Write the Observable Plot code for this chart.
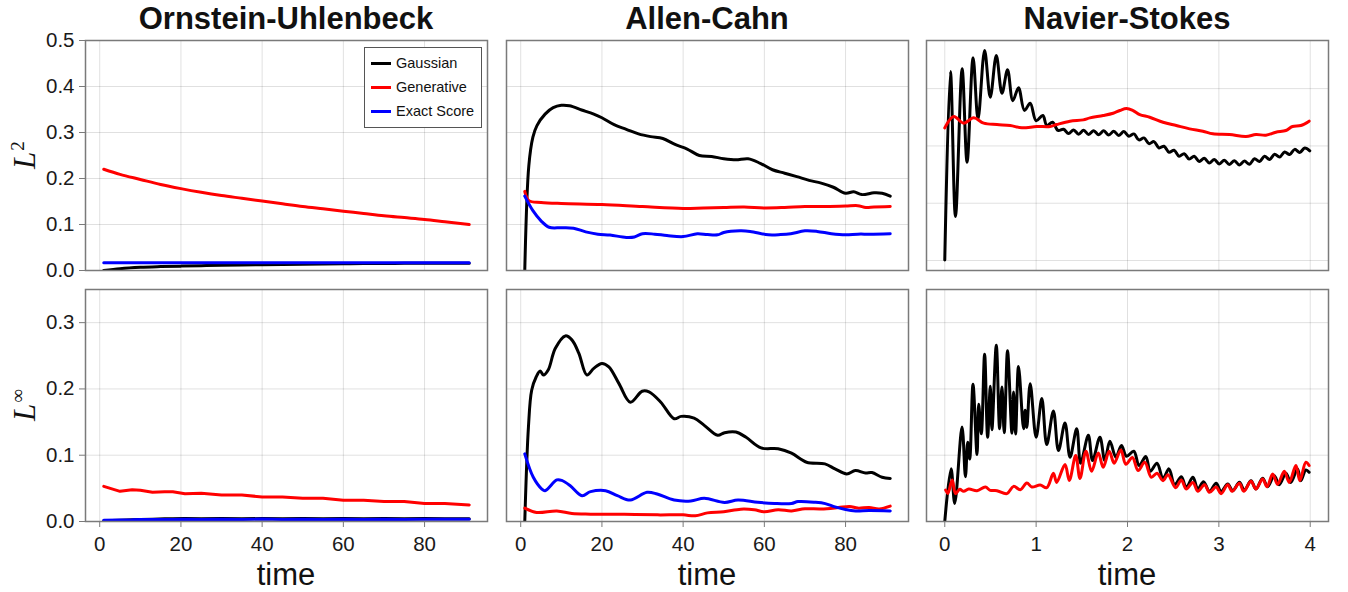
<!DOCTYPE html>
<html>
<head>
<meta charset="utf-8">
<script src="https://cdn.jsdelivr.net/npm/d3@7"></script>
<script src="https://cdn.jsdelivr.net/npm/@observablehq/plot@0.6"></script>
<style>
  html, body { margin: 0; padding: 0; background: #fff; }
  #root { position: relative; width: 1348px; height: 592px; overflow: hidden; font-family: "Liberation Sans", Arial, sans-serif; color: #111; }
  .title { position: absolute; font-weight: bold; font-size: 31px; line-height: 31px; white-space: nowrap; transform: translateX(-50%); }
  .xlab { position: absolute; font-size: 31px; line-height: 31px; white-space: nowrap; transform: translateX(-50%); }
  .ylab { position: absolute; font-family: "Liberation Serif", "DejaVu Serif", serif; font-style: italic; font-size: 31px; line-height: 31px; white-space: nowrap; transform: translate(-50%, -50%) rotate(-90deg); }
  .ylab sup { font-style: normal; font-size: 19px; vertical-align: 11px; line-height: 0; margin-left: 1px; }
  .legend { position: absolute; background: #fff; border: 1.5px solid #555; box-sizing: border-box; font-size: 14.5px; }
  .legend .row { position: absolute; left: 0; height: 20px; line-height: 20px; white-space: nowrap; }
  .legend .sw { position: absolute; left: 6px; top: 8.5px; width: 20px; height: 3px; }
  .legend .tx { position: absolute; left: 31px; top: 0; }
</style>
</head>
<body>
<div id="root"></div>
<script>
// ---------- tick values and labels ----------
const xTicksLong = [0, 20, 40, 60, 80];
const xTickLabelsLong = ["0", "20", "40", "60", "80"];
const xTicksNS = [0, 1, 2, 3, 4];
const xTickLabelsNS = ["0", "1", "2", "3", "4"];
const yTicksTop = [0, 0.1, 0.2, 0.3, 0.4, 0.5];
const yTickLabelsTop = ["0.0", "0.1", "0.2", "0.3", "0.4", "0.5"];
const yTicksBottom = [0, 0.1, 0.2, 0.3];
const yTickLabelsBottom = ["0.0", "0.1", "0.2", "0.3"];
const yTicksNSTop = [0, 0.1, 0.2, 0.3];

const titles = ["Ornstein-Uhlenbeck", "Allen-Cahn", "Navier-Stokes"];
const seriesNames = ["Gaussian", "Generative", "Exact Score"];
const seriesColors = ["#000000", "#ff0000", "#0000ff"];

// ---------- Ornstein-Uhlenbeck, L2 ----------
const ouL2Time = [1, 5, 10, 15, 20, 25, 30, 35, 40, 45, 50, 55, 60, 65, 70, 75, 80, 85, 91];
const ouL2Gaussian = [0.000, 0.004, 0.007, 0.0085, 0.0095, 0.0105, 0.0115, 0.012, 0.0125, 0.013, 0.0135, 0.014, 0.0145, 0.015, 0.015, 0.0155, 0.0155, 0.016, 0.016];
const ouL2Generative = [0.220, 0.209, 0.198, 0.187, 0.178, 0.170, 0.163, 0.157, 0.151, 0.145, 0.139, 0.134, 0.129, 0.124, 0.119, 0.115, 0.111, 0.106, 0.100];
const ouL2Exact = [0.017, 0.017, 0.017, 0.017, 0.017, 0.017, 0.017, 0.017, 0.017, 0.017, 0.017, 0.017, 0.017, 0.017, 0.017, 0.017, 0.017, 0.017, 0.017];

// ---------- Ornstein-Uhlenbeck, Linf ----------
const ouLinfTime = [1, 5, 8, 10, 13, 16, 18, 21, 25, 30, 35, 40, 45, 50, 55, 60, 65, 70, 75, 80, 85, 91];
const ouLinfGaussian = [0.001, 0.002, 0.0025, 0.003, 0.0035, 0.004, 0.004, 0.0045, 0.004, 0.0045, 0.004, 0.0045, 0.004, 0.0045, 0.004, 0.0045, 0.004, 0.0045, 0.004, 0.0045, 0.004, 0.004];
const ouLinfGenerative = [0.053, 0.0455, 0.048, 0.047, 0.044, 0.045, 0.045, 0.042, 0.0425, 0.040, 0.040, 0.037, 0.037, 0.035, 0.035, 0.032, 0.032, 0.030, 0.030, 0.027, 0.027, 0.025];
const ouLinfExact = [0.002, 0.0022, 0.0025, 0.003, 0.003, 0.003, 0.0032, 0.0035, 0.003, 0.0035, 0.003, 0.0037, 0.003, 0.0035, 0.0032, 0.0035, 0.003, 0.0035, 0.0032, 0.0035, 0.0033, 0.0033];

// ---------- Allen-Cahn, L2 ----------
const acL2GaussianTime = [1, 2, 3, 4, 6, 8, 10, 12, 15, 18, 20, 23, 26, 29, 32, 35, 38, 41, 44, 47, 50, 53, 56, 59, 62, 65, 68, 71, 74, 77, 80, 82, 84, 87, 89, 91];
const acL2Gaussian = [0.0, 0.228, 0.29, 0.315, 0.34, 0.354, 0.359, 0.358, 0.349, 0.34, 0.332, 0.317, 0.307, 0.297, 0.291, 0.287, 0.274, 0.264, 0.25, 0.248, 0.243, 0.2405, 0.243, 0.233, 0.219, 0.2115, 0.204, 0.196, 0.19, 0.181, 0.168, 0.171, 0.165, 0.169, 0.168, 0.1616];
const acL2GenerativeTime = [1, 2, 5, 10, 20, 30, 40, 45, 50, 55, 60, 65, 70, 75, 80, 83, 85, 87, 91];
const acL2Generative = [0.172, 0.152, 0.148, 0.1457, 0.1435, 0.139, 0.135, 0.136, 0.137, 0.138, 0.136, 0.137, 0.139, 0.139, 0.140, 0.141, 0.137, 0.138, 0.139];
const acL2ExactTime = [1, 3, 5, 7, 10, 13, 16, 19, 22, 26, 28, 30, 33, 36, 40, 43.5, 46, 48.5, 50, 54, 56.5, 61, 64, 66.5, 70, 73, 76.5, 80, 83, 86, 91];
const acL2Exact = [0.1616, 0.130, 0.108, 0.094, 0.093, 0.092, 0.084, 0.079, 0.077, 0.072, 0.073, 0.080, 0.079, 0.076, 0.0737, 0.080, 0.078, 0.0775, 0.0825, 0.0862, 0.085, 0.0775, 0.078, 0.080, 0.0862, 0.085, 0.080, 0.0775, 0.079, 0.079, 0.080];

// ---------- Allen-Cahn, Linf ----------
const acLinfGaussianTime = [1, 1.9, 2.7, 3.8, 4.8, 5.6, 6.8, 8.5, 11, 12.6, 14.3, 16.3, 18, 20, 21.7, 24.2, 27, 29.9, 31.6, 34.5, 37.8, 39.5, 42.7, 45.2, 48.5, 50.2, 53, 55.5, 59.2, 63.4, 66.7, 70.4, 74.9, 77.4, 80.3, 82.4, 84.9, 86.5, 89, 91];
const acLinfGaussian = [0.0, 0.1424, 0.198, 0.218, 0.227, 0.221, 0.229, 0.261, 0.28, 0.274, 0.254, 0.221, 0.231, 0.2385, 0.2333, 0.208, 0.180, 0.1965, 0.1955, 0.180, 0.155, 0.1586, 0.156, 0.145, 0.13, 0.134, 0.135, 0.127, 0.111, 0.1097, 0.103, 0.0894, 0.087, 0.0794, 0.0718, 0.0768, 0.0733, 0.0738, 0.0667, 0.065];
const acLinfGenerativeTime = [1, 3.9, 8.9, 12.6, 17.2, 25.5, 33.7, 40, 43, 46, 50, 54.2, 57.5, 60, 63.4, 66.7, 70, 74, 78.2, 81, 83, 85.8, 88.3, 91];
const acLinfGenerative = [0.0202, 0.0136, 0.016, 0.012, 0.0111, 0.011, 0.010, 0.010, 0.0086, 0.013, 0.0146, 0.0186, 0.0177, 0.0146, 0.0177, 0.016, 0.0192, 0.019, 0.021, 0.0227, 0.0202, 0.021, 0.019, 0.0232];
const acLinfExactTime = [1, 3.1, 5.2, 6, 8.9, 10.1, 12.2, 15.1, 17.2, 20.9, 23.8, 27, 31.1, 33.6, 37.8, 41.9, 45.2, 50.2, 53.5, 58.4, 62.5, 66.7, 68.3, 72.5, 75, 77.4, 80, 82.5, 85.8, 91];
const acLinfExact = [0.102, 0.0667, 0.049, 0.0465, 0.0627, 0.062, 0.054, 0.039, 0.045, 0.0465, 0.039, 0.0324, 0.044, 0.0415, 0.0324, 0.031, 0.035, 0.0288, 0.0324, 0.029, 0.0273, 0.0273, 0.030, 0.029, 0.027, 0.022, 0.018, 0.016, 0.0167, 0.016];

// ---------- Navier-Stokes, L2 ----------
const nsL2GaussianTime = [0, 0.062, 0.117, 0.19, 0.244, 0.31, 0.364, 0.436, 0.498, 0.564, 0.626, 0.687, 0.745, 0.807, 0.872, 0.935, 1.0, 1.073, 1.117, 1.18, 1.24,
  1.30, 1.355, 1.41, 1.465, 1.52, 1.575, 1.63, 1.685, 1.74, 1.795, 1.85, 1.905, 1.96, 2.015, 2.07, 2.125, 2.18, 2.235, 2.29, 2.345, 2.40, 2.455, 2.51, 2.565, 2.62, 2.675, 2.73, 2.785, 2.84, 2.895, 2.95, 3.005, 3.06, 3.115, 3.17, 3.225, 3.28, 3.335, 3.39, 3.445, 3.50, 3.555, 3.61, 3.665, 3.72, 3.775, 3.83, 3.885, 3.94, 3.995];
const nsL2Gaussian = [0.001, 0.330, 0.0768, 0.3345, 0.1716, 0.3537, 0.247, 0.3665, 0.285, 0.3578, 0.292, 0.3328, 0.279, 0.3014, 0.262, 0.2745, 0.244, 0.253, 0.2356, 0.2414, 0.227,
  0.2290, 0.2215, 0.2280, 0.2205, 0.2273, 0.2200, 0.2267, 0.2195, 0.2263, 0.2190, 0.2257, 0.2183, 0.2250, 0.2170, 0.2210, 0.2105, 0.2140, 0.2040, 0.2075, 0.1965, 0.1995, 0.1890, 0.1925, 0.1820, 0.1865, 0.1770, 0.1820, 0.1730, 0.1783, 0.1703, 0.1763, 0.1685, 0.1751, 0.1677, 0.1743, 0.1667, 0.1735, 0.1680, 0.1775, 0.1730, 0.1820, 0.1765, 0.1855, 0.1805, 0.1895, 0.1850, 0.1940, 0.1885, 0.1965, 0.1915];
const nsL2GenerativeTime = [0.0, 0.098, 0.207, 0.317, 0.426, 0.571, 0.716, 0.844, 1.007, 1.153, 1.225, 1.37, 1.516, 1.589, 1.734, 1.843, 1.916, 1.989, 2.061, 2.134, 2.243, 2.389, 2.534, 2.680, 2.825, 2.934, 3.116, 3.297, 3.406, 3.515, 3.624, 3.733, 3.806, 3.897, 3.988];
const nsL2Generative = [0.2316, 0.2513, 0.2397, 0.2490, 0.2397, 0.2373, 0.2356, 0.2316, 0.2339, 0.2339, 0.2373, 0.2432, 0.2455, 0.2490, 0.2531, 0.2571, 0.2618, 0.2653, 0.2618, 0.2548, 0.2501, 0.2414, 0.2356, 0.2298, 0.2257, 0.2211, 0.2199, 0.2164, 0.2199, 0.2188, 0.2240, 0.2269, 0.2339, 0.2356, 0.2432];

// ---------- Navier-Stokes, Linf ----------
const nsLinfGaussianTime = [0.0, 0.069, 0.109, 0.189, 0.226, 0.251, 0.273, 0.309, 0.353, 0.371, 0.400, 0.436, 0.469, 0.498, 0.516, 0.564, 0.600, 0.626, 0.651, 0.687, 0.735, 0.753, 0.775, 0.807, 0.862, 0.880, 0.898, 0.935, 1.000, 1.062, 1.116, 1.189, 1.244, 1.316, 1.371, 1.444, 1.487, 1.571, 1.618, 1.698, 1.752, 1.807, 1.873, 1.934, 1.989, 2.069, 2.127, 2.200, 2.250, 2.323, 2.389, 2.454, 2.516, 2.589, 2.643, 2.716, 2.770, 2.832, 2.897, 2.970, 3.024, 3.097, 3.152, 3.225, 3.279, 3.352, 3.406, 3.479, 3.534, 3.606, 3.661, 3.734, 3.788, 3.861, 3.897, 3.952, 3.988];
const nsLinfGaussian = [0.0, 0.0794, 0.0273, 0.1424, 0.0677, 0.1197, 0.0944, 0.207, 0.101, 0.1768, 0.1323, 0.2525, 0.127, 0.204, 0.1385, 0.266, 0.140, 0.203, 0.134, 0.2576, 0.1333, 0.1955, 0.132, 0.234, 0.140, 0.168, 0.142, 0.208, 0.127, 0.1854, 0.116, 0.1667, 0.107, 0.1485, 0.097, 0.140, 0.088, 0.130, 0.092, 0.127, 0.092, 0.121, 0.097, 0.1147, 0.0985, 0.106, 0.0844, 0.098, 0.0758, 0.088, 0.0652, 0.0794, 0.0556, 0.0677, 0.0515, 0.0667, 0.049, 0.0601, 0.0455, 0.0576, 0.0455, 0.0566, 0.0465, 0.0591, 0.0475, 0.0616, 0.049, 0.0652, 0.0525, 0.0692, 0.0556, 0.0727, 0.059, 0.0794, 0.0616, 0.0778, 0.0743];
const nsLinfGenerativeTime = [0.009, 0.034, 0.081, 0.117, 0.164, 0.207, 0.262, 0.353, 0.444, 0.498, 0.571, 0.680, 0.753, 0.826, 0.898, 0.953, 1.044, 1.116, 1.189, 1.225, 1.316, 1.363, 1.433, 1.480, 1.545, 1.607, 1.680, 1.734, 1.800, 1.854, 1.927, 1.982, 2.054, 2.116, 2.189, 2.261, 2.323, 2.389, 2.443, 2.527, 2.589, 2.643, 2.716, 2.770, 2.843, 2.897, 2.970, 3.024, 3.097, 3.145, 3.225, 3.272, 3.352, 3.406, 3.479, 3.527, 3.589, 3.643, 3.716, 3.770, 3.843, 3.886, 3.952, 3.988];
const nsLinfGenerative = [0.0475, 0.0424, 0.0627, 0.042, 0.0485, 0.0455, 0.049, 0.0465, 0.052, 0.047, 0.0465, 0.042, 0.053, 0.048, 0.058, 0.052, 0.055, 0.051, 0.0727, 0.059, 0.086, 0.062, 0.0995, 0.065, 0.106, 0.0758, 0.1035, 0.0818, 0.106, 0.088, 0.108, 0.0864, 0.0965, 0.0768, 0.0894, 0.0667, 0.0727, 0.0616, 0.0707, 0.051, 0.0627, 0.049, 0.059, 0.0455, 0.0556, 0.044, 0.052, 0.042, 0.0556, 0.0455, 0.0576, 0.0455, 0.0606, 0.049, 0.0642, 0.0525, 0.0717, 0.056, 0.0758, 0.059, 0.0844, 0.0616, 0.0894, 0.0844];

// ---------- layout ----------
const root = document.getElementById("root");
const colLeft = [85, 506, 926];
const colWidth = 402;
const rowTop = [40, 289];
const rowHeight = [230, 232];

function panel({col, row, xDomain, yDomain, xTicks, xLabels, yTicks, yLabels, series}) {
  const mL = yLabels ? 85 : 4, mR = 4, mT = 4, mB = xLabels ? 44 : 4;
  const fx = colLeft[col], fy = rowTop[row], fw = colWidth, fh = rowHeight[row];
  const marks = [
    Plot.gridX(xTicks, {stroke: "#000", strokeOpacity: 0.12, strokeWidth: 1}),
    Plot.gridY(yTicks, {stroke: "#000", strokeOpacity: 0.12, strokeWidth: 1}),
    ...series.map(s => Plot.line(s.v, {x: s.t, y: s.v, stroke: s.color, strokeWidth: 3, curve: s.curve || "catmull-rom", clip: true, strokeLinejoin: "round"})),
    Plot.frame({stroke: "#7a7a7a", strokeWidth: 1.5})
  ];
  if (yLabels) {
    marks.push(Plot.axisY(yTicks, {anchor: "left", tickSize: 6, tickPadding: 5, fontSize: 20.5, stroke: "#7a7a7a", fill: "#1a1a1a", label: null, tickFormat: d => yLabels[yTicks.indexOf(d)]}));
  }
  if (xLabels) {
    marks.push(Plot.axisX(xTicks, {anchor: "bottom", tickSize: 6, tickPadding: 9, fontSize: 20.5, stroke: "#7a7a7a", fill: "#1a1a1a", label: null, tickFormat: d => xLabels[xTicks.indexOf(d)]}));
  }
  const svg = Plot.plot({
    width: mL + fw + mR,
    height: mT + fh + mB,
    marginLeft: mL, marginRight: mR, marginTop: mT, marginBottom: mB,
    x: {domain: xDomain, axis: null},
    y: {domain: yDomain, axis: null},
    style: {fontFamily: "Liberation Sans, Arial, sans-serif", background: "transparent", overflow: "visible"},
    marks
  });
  svg.style.position = "absolute";
  svg.style.left = (fx - mL) + "px";
  svg.style.top = (fy - mT) + "px";
  root.appendChild(svg);
}

const S = (t, v, i, curve) => ({t, v, color: seriesColors[i], curve});
const domLong = [-3.5, 95.5];
const domNS = [-0.2, 4.2];
const domTop = [0, 0.5];
const domBottom = [0, 0.35];
const domNSTop = [-0.0174, 0.384];

// row 0 : L2
panel({col: 0, row: 0, xDomain: domLong, yDomain: domTop, xTicks: xTicksLong, yTicks: yTicksTop, yLabels: yTickLabelsTop,
  series: [S(ouL2Time, ouL2Gaussian, 0, "monotone-x"), S(ouL2Time, ouL2Generative, 1, "monotone-x"), S(ouL2Time, ouL2Exact, 2, "linear")]});
panel({col: 1, row: 0, xDomain: domLong, yDomain: domTop, xTicks: xTicksLong, yTicks: yTicksTop,
  series: [S(acL2GaussianTime, acL2Gaussian, 0), S(acL2GenerativeTime, acL2Generative, 1), S(acL2ExactTime, acL2Exact, 2)]});
panel({col: 2, row: 0, xDomain: domNS, yDomain: domNSTop, xTicks: xTicksNS, yTicks: yTicksNSTop,
  series: [S(nsL2GaussianTime, nsL2Gaussian, 0), S(nsL2GenerativeTime, nsL2Generative, 1)]});
// row 1 : Linf
panel({col: 0, row: 1, xDomain: domLong, yDomain: domBottom, xTicks: xTicksLong, xLabels: xTickLabelsLong, yTicks: yTicksBottom, yLabels: yTickLabelsBottom,
  series: [S(ouLinfTime, ouLinfGaussian, 0, "linear"), S(ouLinfTime, ouLinfGenerative, 1, "linear"), S(ouLinfTime, ouLinfExact, 2, "linear")]});
panel({col: 1, row: 1, xDomain: domLong, yDomain: domBottom, xTicks: xTicksLong, xLabels: xTickLabelsLong, yTicks: yTicksBottom,
  series: [S(acLinfGaussianTime, acLinfGaussian, 0), S(acLinfGenerativeTime, acLinfGenerative, 1), S(acLinfExactTime, acLinfExact, 2)]});
panel({col: 2, row: 1, xDomain: domNS, yDomain: domBottom, xTicks: xTicksNS, xLabels: xTickLabelsNS, yTicks: yTicksBottom,
  series: [S(nsLinfGaussianTime, nsLinfGaussian, 0), S(nsLinfGenerativeTime, nsLinfGenerative, 1)]});

// ---------- titles, axis labels ----------
function addDiv(cls, html, left, top) {
  const d = document.createElement("div");
  d.className = cls;
  d.innerHTML = html;
  d.style.left = left + "px";
  d.style.top = top + "px";
  root.appendChild(d);
  return d;
}
titles.forEach((t, i) => addDiv("title", t, colLeft[i] + colWidth / 2, 3));
titles.forEach((t, i) => addDiv("xlab", "time", colLeft[i] + colWidth / 2, 559));
addDiv("ylab", "L<sup>2</sup>", 24, rowTop[0] + rowHeight[0] / 2);
addDiv("ylab", "L<sup>∞</sup>", 24, rowTop[1] + rowHeight[1] / 2);

// ---------- legend ----------
const lg = document.createElement("div");
lg.className = "legend";
Object.assign(lg.style, {left: "364px", top: "47px", width: "118px", height: "81px"});
seriesNames.forEach((name, i) => {
  const r = document.createElement("div");
  r.className = "row";
  r.style.top = (5 + i * 24) + "px";
  r.innerHTML = `<span class="sw" style="background:${seriesColors[i]}"></span><span class="tx">${name}</span>`;
  lg.appendChild(r);
});
root.appendChild(lg);
</script>
</body>
</html>
